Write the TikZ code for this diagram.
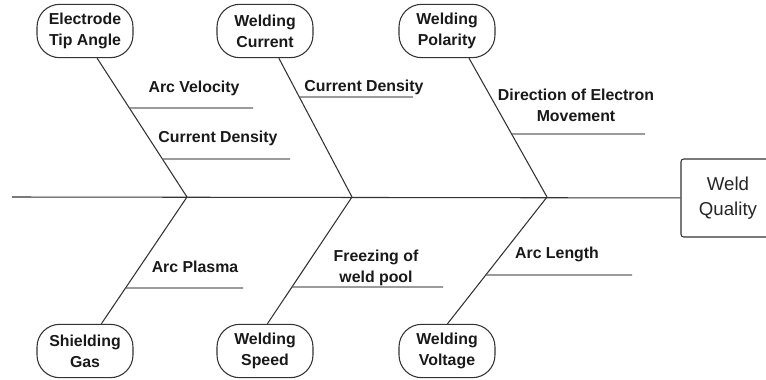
\documentclass[tikz,border=0pt]{standalone}
\usepackage{fontspec}
\setmainfont{Liberation Sans}
\usetikzlibrary{intersections}
\begin{document}
\begin{tikzpicture}[x=0.75pt, y=-0.75pt,
    cause/.style={draw=black!80, line width=0.8pt, rounded corners=17pt,
        minimum width=72pt, minimum height=40pt, align=center, inner sep=1pt,
        text=black!90, font=\bfseries\fontsize{11.9}{15.5}\selectfont},
    sub/.style={align=center, inner sep=0pt, text=black!90,
        font=\bfseries\fontsize{11.9}{15.5}\selectfont},
    bone/.style={draw=black!80, line width=0.8pt},
    twig/.style={draw=black!60, line width=0.8pt}]
    \useasboundingbox (0,0) rectangle (766,379);
    % effect box, runs past the right edge
    \node[draw=black!80, line width=0.8pt, rounded corners=2pt, minimum width=70.5pt,
        minimum height=58.5pt, align=center, text=black!85,
        font=\fontsize{14}{18.5}\selectfont] (wq) at (728,198) {Weld\\Quality};
    \foreach \n/\x/\t in {eta/85/{Electrode\\Tip Angle}, wc/265/{Welding\\Current},
        wp/447/{Welding\\Polarity}}
        \node[cause] (\n) at (\x,31) {\t};
    \foreach \n/\x/\t in {sg/85/{Shielding\\Gas}, ws/265/{Welding\\Speed},
        wv/447/{Welding\\Voltage}}
        \node[cause] (\n) at (\x,351) {\t};
    \coordinate (tail) at (12,197);
    \foreach \j/\x in {j1/187, j2/352, j3/547}
        \coordinate (\j) at (\x,197);
    \draw[bone] (tail) -- (wq);
    \foreach \a/\aa/\j/\b/\ba in {eta/-66/j1/sg/59, wc/-63/j2/ws/85, wp/-51/j3/wv/89} {
        \draw[bone, name path global=\a-b] (\a.\aa) -- (\j);
        \draw[bone, name path global=\b-b] (\j) -- (\b.\ba);
    }
    % sub causes: name / label x,y / line y / line end x / bone / text
    \foreach \n/\lx/\ly/\y/\ex/\p/\t in {
        av/194/88/108/253/eta/{Arc Velocity},
        cdA/218/138/159/290/eta/{Current Density},
        cdB/364/87/97/413/wc/{Current Density},
        dem/576/105/134/645/wp/{Direction of Electron\\Movement},
        ap/195/267/288/243/sg/{Arc Plasma},
        fwp/376/268/287/443/ws/{Freezing of\\weld pool},
        al/557/254/275/632/wv/{Arc Length}} {
        \path[name path=h] (0,\y) -- (766,\y);
        \path[name intersections={of=\p-b and h, by=\n-s}];
        \coordinate (\n-e) at (\ex,\y);
        \draw[twig] (\n-s) -- (\n-e);
        \node[sub] (\n) at (\lx,\ly) {\t};
    }
\end{tikzpicture}
\end{document}
